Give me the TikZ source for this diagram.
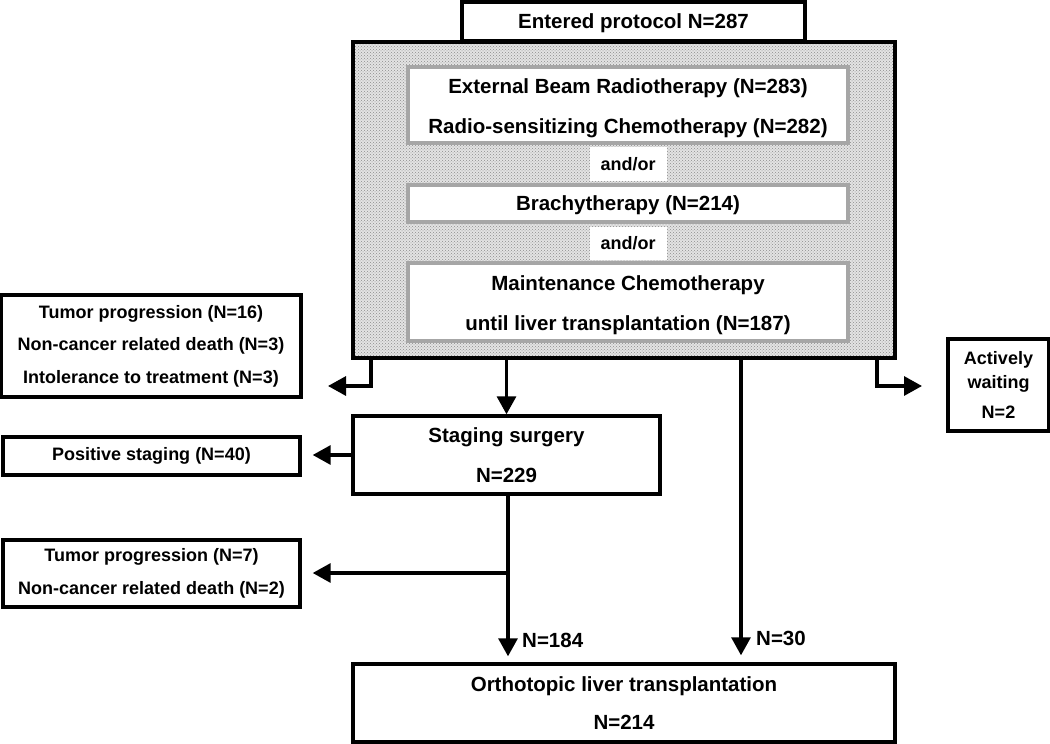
\documentclass[tikz,border=0pt]{standalone}
\usepackage{fontspec}
\setmainfont{Liberation Sans}
\usetikzlibrary{arrows.meta,patterns}
\begin{document}
\begin{tikzpicture}[x=1pt,y=-1pt,
  box/.style={draw=black,line width=3.4pt,fill=white,inner sep=0pt,align=center,font=\bfseries\fontsize{20.5}{40}\selectfont},
  sbox/.style={box,font=\bfseries\fontsize{18}{32.5}\selectfont},
  ibox/.style={draw=gray!70,line width=3.2pt,fill=white,inner sep=0pt},
  itext/.style={inner sep=0pt,align=center,font=\bfseries\fontsize{20.5}{40}\selectfont},
  andor/.style={fill=white,inner sep=0pt,font=\bfseries\fontsize{18}{20}\selectfont},
  lbl/.style={inner sep=0pt,anchor=west,font=\bfseries\fontsize{20.5}{22}\selectfont},
  arr/.style={line width=3.2pt,-{Triangle[length=18pt,width=19pt]}}]
\useasboundingbox (0,0) rectangle (1050,744);
% big stippled box
\node[preaction={fill=gray!22},pattern=crosshatch dots,pattern color=gray!90,minimum width=542pt,minimum height=316pt,inner sep=0pt] (stip) at (624,200) {};
\node[draw=black,line width=3.6pt,minimum width=542pt,minimum height=316pt,inner sep=0pt] (stipb) at (624,200) {};
\node[box,minimum width=343pt,minimum height=39pt] (top) at (633.5,21.5) {};
\node[itext] (topt) at (633.5,23) {Entered protocol N=287};
\node[ibox,minimum width=440pt,minimum height=76pt] (in1) at (628,105) {};
\node[itext] (in1t) at (628,108.5) {External Beam Radiotherapy (N=283)\\Radio-sensitizing Chemotherapy (N=282)};
\node[andor,minimum width=77pt,minimum height=34pt] (ao1) at (628,164) {and/or};
\node[ibox,minimum width=440pt,minimum height=37pt] (in2) at (628,203.5) {};
\node[itext] (in2t) at (628,205.5) {Brachytherapy (N=214)};
\node[andor,minimum width=77pt,minimum height=33pt] (ao2) at (628,243.5) {and/or};
\node[ibox,minimum width=440pt,minimum height=78pt] (in3) at (628,302) {};
\node[itext] (in3t) at (628,305) {Maintenance Chemotherapy\\until liver transplantation (N=187)};
% side boxes
\node[sbox,minimum width=300pt,minimum height=102pt] (lb1) at (151,346) {Tumor progression (N=16)\\Non-cancer related death (N=3)\\Intolerance to treatment (N=3)};
\node[sbox,minimum width=101pt,minimum height=92pt,font=\bfseries\fontsize{18}{24}\selectfont] (act) at (998.5,385) {Actively\\waiting\\[6pt]N=2};
\node[box,minimum width=307pt,minimum height=78pt] (stg) at (506.5,455) {Staging surgery\\N=229};
\node[sbox,minimum width=297pt,minimum height=38pt] (pos) at (151.5,456) {Positive staging (N=40)};
\node[sbox,minimum width=297pt,minimum height=67pt] (tp7) at (151.5,573.5) {Tumor progression (N=7)\\Non-cancer related death (N=2)};
\node[box,minimum width=542pt,minimum height=78pt,font=\bfseries\fontsize{20.5}{38}\selectfont] (olt) at (624,703) {Orthotopic liver transplantation\\N=214};
% connectors
\coordinate (lk) at (371,386);
\coordinate (ltip) at (328,386);
\coordinate (rk) at (877,386);
\coordinate (rtip) at (922,386);
\coordinate (br) at (508,573);
\draw[arr] (stip.south -| lk) -- (lk) -- (ltip);
\draw[arr] (stip.south -| rk) -- (rk) -- (rtip);
\draw[arr] (stip.south -| stg.north) -- (stg.north);
\draw[arr,shorten >=7pt] (stip.south -| 741,0) -- (olt.north -| 741,0);
\draw[arr,shorten >=11pt] (stg.west) -- (stg.west -| pos.east);
\draw[arr,shorten >=6pt] (stg.south -| br) -- (olt.north -| br);
\draw[arr,shorten >=11pt] (br) -- (br -| tp7.east);
\node[lbl] (n184) at (522,640) {N=184};
\node[lbl] (n30) at (756,638) {N=30};
\end{tikzpicture}
\end{document}
